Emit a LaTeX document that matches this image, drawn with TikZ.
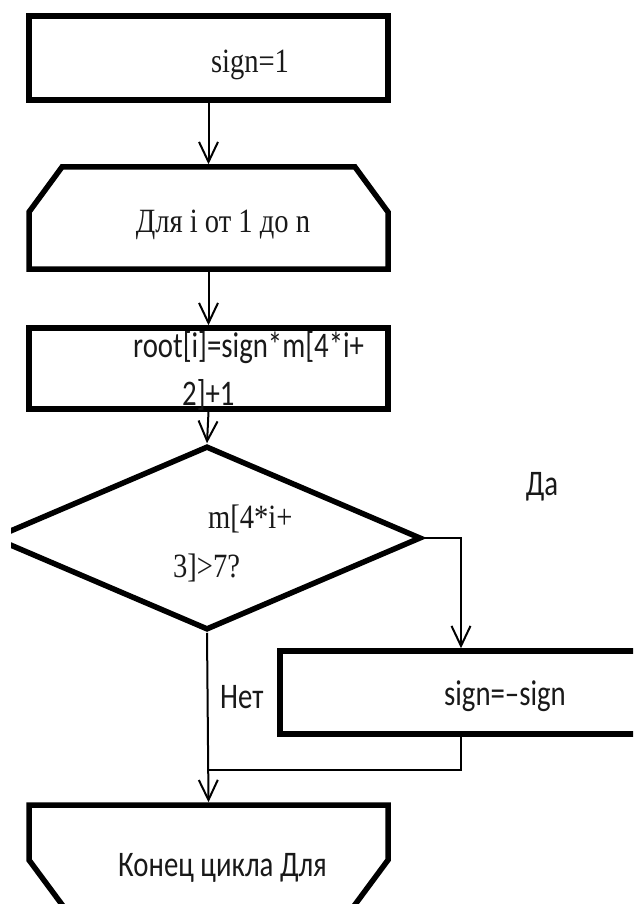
\documentclass[tikz,border=0pt]{standalone}
\usepackage{fontspec}
\newfontfamily\sansf[FakeStretch=0.8]{Carlito}
\newfontfamily\serf[FakeStretch=0.84]{Liberation Serif}
\usetikzlibrary{arrows.meta,shapes.geometric}
\begin{document}
\begin{tikzpicture}[x=1pt,y=-1pt,
  shapebox/.style={draw, line width=5.5pt, inner sep=0pt, outer sep=2.75pt},
  ghost/.style={draw=none, inner sep=0pt, outer sep=2.75pt, minimum width=359pt},
  outline/.style={line width=5.5pt, line join=miter},
  conn/.style={line width=2pt},
  arr/.style={conn, -{Straight Barb[length=20pt,width=19pt]}},
  stxt/.style={inner sep=0pt, text=black!90, font=\sansf\fontsize{36}{36}\selectfont},
  rtxt/.style={inner sep=0pt, text=black!90, font=\serf\fontsize{34}{34}\selectfont},
]
\useasboundingbox (0,0) rectangle (633,904);
\clip (11,0) rectangle (633,904);
% shapes
\node[shapebox, minimum width=359pt, minimum height=84pt] (init) at (208.5,58) {};
\node[ghost, minimum height=102pt] (loop) at (208.5,218) {};
\draw[outline] (29,269) -- (29,212) -- (62,167) -- (355,167) -- (388,212) -- (388,269) -- cycle;
\node[shapebox, minimum width=359pt, minimum height=81pt] (root) at (208.5,368.5) {};
\node[draw, diamond, line width=5.5pt, minimum width=428pt, minimum height=184pt, inner sep=0pt, outer sep=2.75pt] (dia) at (207,538) {};
\node[ghost, minimum width=440pt, minimum height=83pt] (neg) at (500,692.5) {};
\draw[outline] (700,651) -- (280,651) -- (280,734) -- (700,734);
\node[ghost, minimum height=100pt] (endb) at (208.5,855) {};
\draw[outline] (29,805) -- (388,805) -- (388,860) -- (351,910) -- (66,910) -- (29,860) -- cycle;
% connectors
\coordinate (daTurn) at (461,538);
\coordinate (join) at (208,770);
\draw[arr] (init.south) -- (loop.north);
\draw[arr] (loop.south) -- (root.north);
\draw[arr] (root.south) -- (dia.north);
\draw[arr] (dia.east) -- (daTurn) -- (daTurn |- neg.north);
\draw[conn] (daTurn |- neg.south) |- (join);
\draw[arr] (dia.south) -- (endb.north);
% texts
\node[rtxt, anchor=base] (t1) at (250,73) {sign=1};
\node[rtxt, anchor=base] (t2) at (223,232) {Для i от 1 до n};
\node[stxt, anchor=base west] (t3) at (133,357) {root[i]=sign*m[4*i+};
\node[stxt, anchor=base west] (t4) at (182,405) {2]+1};
\node[rtxt, anchor=base west] (t5) at (208,528) {m[4*i+};
\node[rtxt, anchor=base west] (t6) at (173,577) {3]>7?};
\node[stxt, anchor=base] (t7) at (542,495) {Да};
\node[stxt, anchor=base west] (t8) at (220,708) {Нет};
\node[stxt, anchor=base] (t9) at (505,705) {sign=–sign};
\node[stxt, anchor=base west] (t10) at (118,876) {Конец цикла Для};
\end{tikzpicture}
\end{document}
